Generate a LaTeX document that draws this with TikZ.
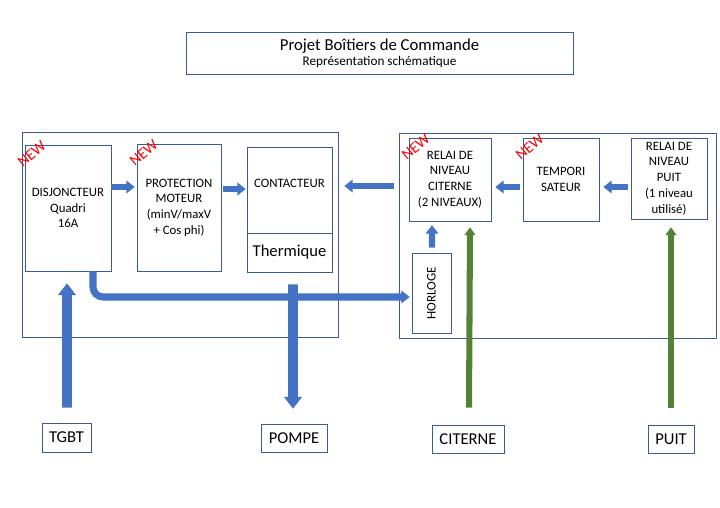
\documentclass[tikz,border=0pt]{standalone}
\usepackage{fontspec}
\setmainfont{Carlito}
\usetikzlibrary{arrows.meta,calc,positioning}
\definecolor{bleufl}{HTML}{4472C4}
\definecolor{vertfl}{HTML}{548235}
\definecolor{cadre}{HTML}{3A5A96}

\begin{document}
\begin{tikzpicture}[x=0.025cm,y=-0.025cm,
  boite/.style={draw=cadre,thin,align=center,inner sep=0pt,font=\fontsize{9.1}{11.2}\selectfont},
  taille/.style 2 args={minimum width=#1*0.025cm,minimum height=#2*0.025cm},
  etiq/.style={boite,font=\fontsize{11.8}{13}\selectfont},
  fleche/.style={bleufl,line width=4.3pt,-{Triangle[width=9pt,length=6pt]}},
  grosse/.style={bleufl,line width=7pt,-{Triangle[width=12.5pt,length=8.5pt]}},
  verte/.style={vertfl,line width=4.3pt,-{Triangle[width=7.5pt,length=5.5pt]}},
  nouveau/.style={red,rotate=40,inner sep=0pt,font=\fontsize{11}{12}\selectfont}]
\useasboundingbox (0,0) rectangle (720,507);

% titre
\node[boite,taille={387}{42}] (titre) at (379.5,53)
  {{\fontsize{11.9}{12}\selectfont Projet Boîtiers de Commande}\\[-0.5pt]
   {\fontsize{9.4}{10}\selectfont Représentation schématique}};

% coffret gauche
\node[boite,taille={316}{205}] (gauche) at (180,235) {};
\node[boite,taille={86}{126}] (disj) at (68,208) {DISJONCTEUR\\Quadri\\16A};
\node[boite,taille={84}{127}] (prot) at (179,207.5) {PROTECTION\\MOTEUR\\(minV/maxV\\+ Cos phi)};
\node[boite,taille={85}{86},text depth=0.35cm] (cont) at (289.5,190) {CONTACTEUR};
\node[boite,taille={85}{39},font=\fontsize{11.8}{13}\selectfont] (therm) at (289.5,252.5) {Thermique};

% coffret droit
\node[boite,taille={317}{205}] (droite) at (557.5,235.5) {};
\node[boite,taille={82}{83}] (relaic) at (450,179.5) {RELAI DE\\NIVEAU\\CITERNE\\(2 NIVEAUX)};
\node[boite,taille={76}{83}] (tempo) at (561,179.5) {TEMPORI\\SATEUR};
\node[boite,taille={76}{81}] (relaip) at (669,178.5) {RELAI DE\\NIVEAU\\PUIT\\(1 niveau\\utilisé)};
\node[boite,taille={39}{80},font=\fontsize{9.3}{10}\selectfont] (horloge) at (431.5,293)
  {\rotatebox{90}{HORLOGE}};

% entrees / sorties
\node[etiq,taille={49}{29}] (tgbt) at (66.5,437.5) {TGBT};
\node[etiq,taille={66}{28}] (pompe) at (294,438) {POMPE};
\node[etiq,taille={72}{28}] (citerne) at (468,439) {CITERNE};
\node[etiq,taille={46}{28}] (puit) at (671,439) {PUIT};

\foreach \b in {disj,prot,relaic,tempo}
   \node[nouveau] (new-\b) at ($(\b.north west)+(7,9)$) {NEW};

% liaisons
\draw[fleche] ($(disj.east)+(0,-21)$) -- ($(prot.west)+(-2,-20.5)$);
\draw[fleche] ($(prot.east)+(2,-18.5)$) -- ($(cont.west)+(-1,-1)$);
\draw[fleche] ($(droite.west)+(-5,-49.5)$) -- ($(gauche.east)+(6,-49)$);
\draw[fleche] ($(relaip.west)+(-3,8.5)$) -- ($(tempo.east)+(4,7.5)$);
\draw[fleche] ($(tempo.west)+(-3,7.5)$) -- ($(relaic.east)+(4,7.5)$);
\draw[fleche] ($(horloge.north)+(0.5,-5)$) -- ($(relaic.south)+(-18,4)$);
\draw[fleche,line width=5pt,rounded corners=0.25cm] ($(disj.south)+(25,0)$) |- ($(horloge.west)+(-2,4)$);

\draw[grosse] ($(tgbt.north)+(0.5,-15)$) -- ($(disj.south)+(-1,12)$);
\draw[grosse] ($(therm.south)+(3.5,12)$) -- ($(pompe.north)+(-1,-15)$);
\draw[verte] ($(citerne.north)+(1,-17)$) -- ($(relaic.south)+(20,6)$);
\draw[verte] ($(puit.north)+(0,-17)$) -- ($(relaip.south)+(2,8)$);

\end{tikzpicture}
\end{document}
